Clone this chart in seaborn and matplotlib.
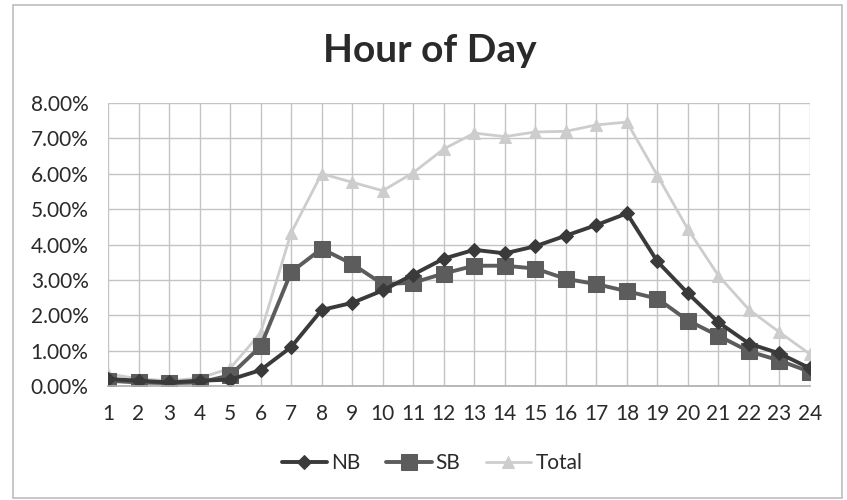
import matplotlib
matplotlib.use("Agg")
import matplotlib.pyplot as plt
import seaborn as sns
import pandas as pd
from matplotlib.ticker import FuncFormatter, MultipleLocator
from matplotlib.patches import Rectangle

hours = list(range(1, 25))
nb = [0.20, 0.15, 0.10, 0.15, 0.18, 0.45, 1.10, 2.15, 2.35, 2.70, 3.15, 3.60,
      3.85, 3.75, 3.95, 4.25, 4.55, 4.88, 3.52, 2.62, 1.80, 1.20, 0.92, 0.50]
sb = [0.15, 0.10, 0.08, 0.10, 0.30, 1.12, 3.22, 3.88, 3.45, 2.88, 2.92, 3.18,
      3.40, 3.40, 3.32, 3.03, 2.88, 2.68, 2.47, 1.85, 1.42, 0.98, 0.72, 0.40]
total = [0.35, 0.20, 0.15, 0.22, 0.50, 1.50, 4.33, 6.00, 5.76, 5.52, 6.03, 6.70,
         7.15, 7.05, 7.18, 7.20, 7.38, 7.46, 5.95, 4.43, 3.12, 2.16, 1.52, 0.90]

df = pd.DataFrame({"hour": hours, "NB": nb, "SB": sb, "Total": total})
long = df.melt(id_vars="hour", var_name="series", value_name="pct")

sns.set_theme(style="white")
plt.rcParams["font.family"] = ["Lato", "DejaVu Sans"]

fig = plt.figure(figsize=(8.47, 5.0), dpi=100)
ax = fig.add_axes([108 / 847, 1 - 386 / 500, (810 - 108) / 847, (386 - 103) / 500])

palette = {"NB": "#3a3a3a", "SB": "#5c5c5c", "Total": "#cdcdcd"}
markers = {"NB": "D", "SB": "s", "Total": "^"}
sizes = {"NB": 7.5, "SB": 11, "Total": 9}
widths = {"NB": 2.8, "SB": 2.8, "Total": 2.0}

# Draw Total first so the directional series sit on top
for name in ["Total", "SB", "NB"]:
    sub = long[long["series"] == name]
    sns.lineplot(data=sub, x="hour", y="pct", ax=ax, color=palette[name],
                 marker=markers[name], markersize=sizes[name], linewidth=widths[name],
                 markeredgecolor=palette[name], label=name, legend=False)

ax.set_xlim(1, 24)
ax.set_ylim(0, 8)
ax.set_xticks(hours)
ax.yaxis.set_major_locator(MultipleLocator(1))
ax.yaxis.set_major_formatter(FuncFormatter(lambda v, _: f"{v:.2f}%"))
ax.grid(True, color="#c4c4c4", linewidth=1.0)
ax.set_axisbelow(True)
for side in ["top", "right", "left"]:
    ax.spines[side].set_visible(False)
ax.spines["bottom"].set_color("#b0b0b0")
ax.tick_params(axis="both", labelsize=15, colors="#2a2a2a", length=0)
ax.tick_params(axis="x", pad=13)
ax.tick_params(axis="y", pad=14)
ax.set_xlabel("")
ax.set_ylabel("")

fig.text(430 / 847, 1 - 50 / 500, "Hour of Day", ha="center", va="center",
         fontsize=28, fontweight="bold", color="#2a2a2a")

handles, labels = ax.get_legend_handles_labels()
order = [labels.index(n) for n in ["NB", "SB", "Total"]]
fig.legend([handles[i] for i in order], [labels[i] for i in order],
           loc="center", bbox_to_anchor=(432 / 847, 1 - 463 / 500), ncol=3,
           frameon=False, fontsize=15, handlelength=2.2, columnspacing=1.2,
           handletextpad=0.2, labelcolor="#2a2a2a")

fig.patches.append(Rectangle((13 / 847, 2 / 500), (842 - 13) / 847, (497 - 4) / 500,
                             transform=fig.transFigure, fill=False,
                             edgecolor="#bdbdbd", linewidth=1.2))

fig.savefig("out.png", dpi=100, facecolor="white")
